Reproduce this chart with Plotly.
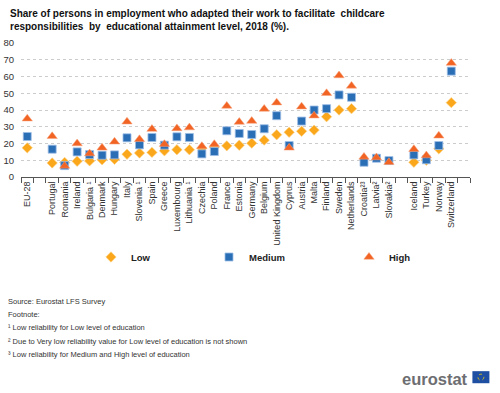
import plotly.graph_objects as go

# ---- data ----
categories = ["EU-28", " ", "Portugal", "Romania", "Ireland", "Bulgaria ¹", "Denmark", "Hungary",
              "Italy", "Slovenia ¹", "Spain", "Greece", "Luxembourg", "Lithuania ¹", "Czechia",
              "Poland", "France", "Estonia", "Germany", "Belgium", "United Kingdom", "Cyprus",
              "Austria", "Malta", "Finland", "Sweden", "Netherlands", "Croatia²³", "Latvia²",
              "Slovakia²", "  ", "Iceland", "Turkey", "Norway", "Switzerland", "   "]

low = [17.4, None, 8.4, 8.7, 9.4, 9.6, 10.3, 10.6, 13.6, 14.3, 14.7, 15.6, 16.3, 16.3, 17.2,
       17.8, 18.6, 19.0, 20.2, 22.0, 25.2, 26.7, 27.3, 28.0, 36.0, 40.0, 40.8, None, None,
       None, None, 8.8, 10.0, 16.8, 44.4, None]

medium = [24.2, None, 16.6, 6.8, 15.0, 13.4, 13.0, 13.2, 23.4, 19.2, 23.6, 19.0, 24.0, 23.6,
          13.8, 15.2, 27.6, 26.0, 25.4, 28.8, 36.6, 18.8, 33.4, 40.0, 40.8, 49.0, 47.6, 8.8,
          11.2, 9.8, None, 13.2, 10.3, 18.8, 63.2, None]

high = [34.8, None, 24.3, 6.6, 20.0, 14.0, 17.4, 21.0, 33.0, 22.5, 28.6, 19.6, 29.0, 29.5,
        18.4, 19.6, 42.4, 32.8, 33.4, 40.6, 44.4, 17.4, 42.0, 36.6, 50.0, 60.6, 54.4, 12.0,
        11.6, 8.8, None, 16.6, 12.8, 24.6, 68.0, None]

y_ticks = [0, 10, 20, 30, 40, 50, 60, 70, 80]

title_text = ("Share of persons in employment who adapted their work to facilitate  childcare<br>"
              "responsibilities  by  educational attainment level, 2018 (%).")
footer_lines = [
    "Source: Eurostat LFS Survey",
    "Footnote:",
    "¹ Low reliability for Low level of education",
    "² Due to Very low reliability value for Low level of education is not shown",
    "³ Low reliability for Medium and High level of education",
]

# ---- layout geometry (pixels) ----
W, H = 500, 393
L, R = 20.7, 469.6
T, B = 43.3, 176.7
FONT = "Arial, Liberation Sans, sans-serif"


def px2x(px):
    return (px - L) / (R - L)


def px2y(py):
    return (B - py) / (B - T)


c_low = "#FBA71B"
c_med = "#2A6EB6"
c_high = "#F26424"

fig = go.Figure()
fig.add_trace(go.Scatter(x=categories, y=low, mode="markers", name="Low",
                         marker=dict(symbol="diamond", size=8, color=c_low,
                                     line=dict(width=0.6, color="#FDD38A")),
                         legend="legend"))
fig.add_trace(go.Scatter(x=categories, y=medium, mode="markers", name="Medium",
                         marker=dict(symbol="square", size=8, color=c_med,
                                     line=dict(width=0.8, color="#9DBEE6")),
                         legend="legend2"))
fig.add_trace(go.Scatter(x=categories, y=high, mode="markers", name="High",
                         marker=dict(symbol="triangle-up", size=9, color=c_high,
                                     line=dict(width=0.5, color="#F7A27C")),
                         legend="legend3"))

legend_common = dict(orientation="h", yanchor="middle", xanchor="left",
                     xref="container", yref="container",
                     bgcolor="rgba(0,0,0,0)", itemwidth=30,
                     font=dict(family=FONT, size=9.5, color="#222222", weight="bold"))

annotations = []
fy = [301, 314, 327, 340, 353]
for txt, yy in zip(footer_lines, fy):
    annotations.append(dict(text=txt, xref="paper", yref="paper", x=px2x(6), y=px2y(yy),
                            xanchor="left", yanchor="middle", showarrow=False,
                            font=dict(family=FONT, size=7.5, color="#333333")))
annotations.append(dict(text="<b>eurostat</b>", xref="paper", yref="paper",
                        x=px2x(470), y=px2y(378), xanchor="right", yanchor="middle",
                        showarrow=False, font=dict(family=FONT, size=16.5, color="#6D6E71")))
annotations.append(dict(text="<b>" + title_text + "</b>", xref="paper", yref="paper",
                        x=px2x(8), y=px2y(20), xanchor="left", yanchor="middle",
                        align="left", showarrow=False,
                        font=dict(family=FONT, size=10, color="#111111")))

shapes = [
    dict(type="rect", xref="paper", yref="paper", x0=px2x(472), x1=px2x(489),
         y0=px2y(382), y1=px2y(370), fillcolor="#1F4FA3", line=dict(width=0)),
    dict(type="circle", xref="paper", yref="paper", x0=px2x(477.5), x1=px2x(483.5),
         y0=px2y(379), y1=px2y(373), line=dict(width=0.8, color="#F5D000", dash="dot")),
]

fig.update_layout(
    width=W, height=H,
    margin=dict(l=L, r=W - R, t=T, b=H - B, pad=0, autoexpand=False),
    paper_bgcolor="white", plot_bgcolor="white",
    font=dict(family=FONT, size=10, color="#333333"),
    xaxis=dict(type="category", categoryorder="array", categoryarray=categories,
               tickson="boundaries", ticks="outside", ticklen=5, tickcolor="#555555",
               showline=True, linecolor="#555555", linewidth=1, showgrid=False,
               tickangle=-90, tickfont=dict(family=FONT, size=9, color="#333333"),
               range=[-0.5, len(categories) - 0.5], zeroline=False, automargin=False),
    yaxis=dict(range=[0, 80], tickvals=y_ticks, showgrid=True, gridcolor="#CCCCCC",
               griddash="dot", gridwidth=1, zeroline=False, showline=False,
               tickfont=dict(family=FONT, size=9.5, color="#333333"),
               ticklabelstandoff=6, automargin=False),
    showlegend=True,
    legend=dict(x=91 / W, y=1 - 257 / H, **legend_common),
    legend2=dict(x=209 / W, y=1 - 257 / H, **legend_common),
    legend3=dict(x=349 / W, y=1 - 257 / H, **legend_common),
    annotations=annotations,
    shapes=shapes,
)

fig.write_html("out.html", config={"displayModeBar": False},
               post_script="document.body.style.margin='0px';document.body.style.overflow='hidden';")
